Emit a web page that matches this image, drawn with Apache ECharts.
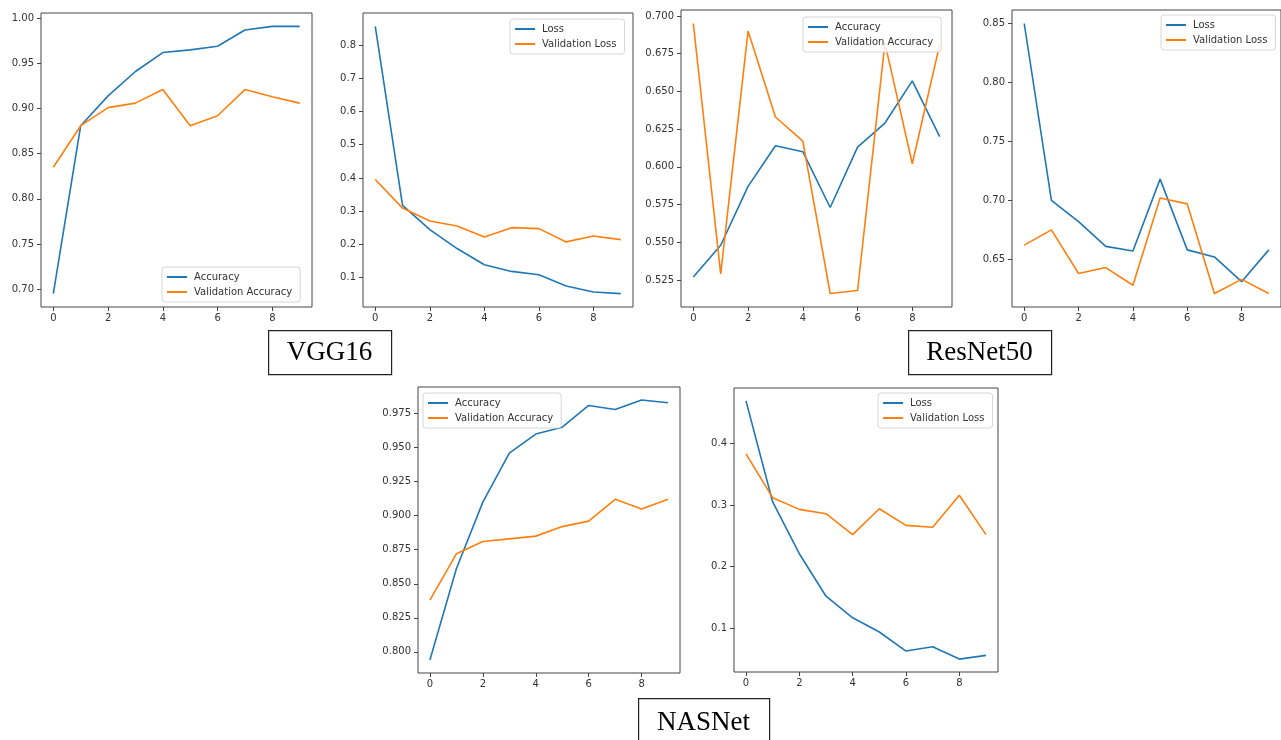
<!DOCTYPE html>
<html>
<head>
<meta charset="utf-8">
<script src="https://cdn.jsdelivr.net/npm/echarts@6/dist/echarts.min.js"></script>
<style>
  html, body { margin: 0; padding: 0; background: #fff; }
  #main { width: 1281px; height: 740px; }
</style>
</head>
<body>
<div id="main"></div>
<script>
var chart = echarts.init(document.getElementById('main'));

var epochs = [0, 1, 2, 3, 4, 5, 6, 7, 8, 9];
var xTicks = [0, 2, 4, 6, 8];

// VGG16
var vggAcc = [0.695, 0.881, 0.914, 0.941, 0.962, 0.965, 0.969, 0.987, 0.991, 0.991];
var vggValAcc = [0.835, 0.881, 0.901, 0.906, 0.921, 0.881, 0.892, 0.921, 0.913, 0.906];
var vggLoss = [0.857, 0.317, 0.244, 0.187, 0.138, 0.118, 0.108, 0.074, 0.056, 0.051];
var vggValLoss = [0.395, 0.309, 0.270, 0.255, 0.222, 0.250, 0.247, 0.207, 0.225, 0.214];

// ResNet50
var resAcc = [0.527, 0.548, 0.587, 0.614, 0.610, 0.573, 0.613, 0.629, 0.657, 0.620];
var resValAcc = [0.695, 0.529, 0.690, 0.633, 0.617, 0.516, 0.518, 0.682, 0.602, 0.681];
var resLoss = [0.850, 0.700, 0.682, 0.661, 0.657, 0.718, 0.658, 0.652, 0.631, 0.658];
var resValLoss = [0.662, 0.675, 0.638, 0.643, 0.628, 0.702, 0.697, 0.621, 0.633, 0.621];

// NASNet
var nasAcc = [0.794, 0.861, 0.910, 0.946, 0.960, 0.965, 0.981, 0.978, 0.985, 0.983];
var nasValAcc = [0.838, 0.872, 0.881, 0.883, 0.885, 0.892, 0.896, 0.912, 0.905, 0.912];
var nasLoss = [0.469, 0.305, 0.221, 0.152, 0.117, 0.094, 0.063, 0.070, 0.050, 0.056];
var nasValLoss = [0.383, 0.312, 0.293, 0.286, 0.252, 0.294, 0.267, 0.264, 0.316, 0.252];

// y tick labels per panel
var yTicksVggAcc = [0.70, 0.75, 0.80, 0.85, 0.90, 0.95, 1.00];
var yTicksVggLoss = [0.1, 0.2, 0.3, 0.4, 0.5, 0.6, 0.7, 0.8];
var yTicksResAcc = [0.525, 0.550, 0.575, 0.600, 0.625, 0.650, 0.675, 0.700];
var yTicksResLoss = [0.65, 0.70, 0.75, 0.80, 0.85];
var yTicksNasAcc = [0.800, 0.825, 0.850, 0.875, 0.900, 0.925, 0.950, 0.975];
var yTicksNasLoss = [0.1, 0.2, 0.3, 0.4];

var BLUE = '#1f77b4', ORANGE = '#ff7f0e';

function pairs(vals) {
    return vals.map(function (v, i) { return [epochs[i], v]; });
}

// panel frames (px)
var grids = [
    {left: 41, top: 13, width: 271, height: 294},
    {left: 363, top: 13, width: 270, height: 294},
    {left: 681, top: 10, width: 271, height: 297},
    {left: 1012, top: 10, width: 273, height: 297},
    {left: 418, top: 387, width: 262, height: 286},
    {left: 734, top: 388, width: 264, height: 284}
];

var panels = [
    {a: vggAcc, b: vggValAcc, names: ['Accuracy', 'Validation Accuracy'], ticks: yTicksVggAcc, dec: 2, leg: [162, 267]},
    {a: vggLoss, b: vggValLoss, names: ['Loss', 'Validation Loss'], ticks: yTicksVggLoss, dec: 1, leg: [510, 19]},
    {a: resAcc, b: resValAcc, names: ['Accuracy', 'Validation Accuracy'], ticks: yTicksResAcc, dec: 3, leg: [803, 17]},
    {a: resLoss, b: resValLoss, names: ['Loss', 'Validation Loss'], ticks: yTicksResLoss, dec: 2, leg: [1161, 15]},
    {a: nasAcc, b: nasValAcc, names: ['Accuracy', 'Validation Accuracy'], ticks: yTicksNasAcc, dec: 3, leg: [423, 393]},
    {a: nasLoss, b: nasValLoss, names: ['Loss', 'Validation Loss'], ticks: yTicksNasLoss, dec: 1, leg: [878, 393]}
];

var tickFont = {fontFamily: 'DejaVu Sans', fontSize: 10, color: '#333'};

var option = {
    backgroundColor: '#fff',
    animation: false,
    grid: [], xAxis: [], yAxis: [], series: [], legend: [],
    graphic: []
};

panels.forEach(function (p, i) {
    var g = grids[i];
    option.grid.push({
        left: g.left, top: g.top, width: g.width, height: g.height,
        show: true, borderColor: '#444', borderWidth: 1, backgroundColor: '#fff'
    });
    // matplotlib style 5% margins
    var all = p.a.concat(p.b);
    var lo = Math.min.apply(null, all), hi = Math.max.apply(null, all);
    var pad = (hi - lo) * 0.05;
    option.xAxis.push({
        type: 'value', gridIndex: i, min: -0.45, max: 9.45,
        splitLine: {show: false}, axisLine: {show: false, onZero: false},
        axisTick: {show: true, inside: false, length: 4, customValues: xTicks, lineStyle: {color: '#444'}},
        axisLabel: Object.assign({margin: 6, customValues: xTicks, formatter: function (v) { return String(v); }}, tickFont)
    });
    option.yAxis.push({
        type: 'value', gridIndex: i, min: lo - pad, max: hi + pad,
        splitLine: {show: false}, axisLine: {show: false, onZero: false},
        axisTick: {show: true, inside: false, length: 4, customValues: p.ticks, lineStyle: {color: '#444'}},
        axisLabel: Object.assign({margin: 7, customValues: p.ticks, formatter: function (v) { return v.toFixed(p.dec); }}, tickFont)
    });
    [p.a, p.b].forEach(function (vals, k) {
        option.series.push({
            name: p.names[k], type: 'line', xAxisIndex: i, yAxisIndex: i,
            data: pairs(vals), symbol: 'none',
            lineStyle: {color: k ? ORANGE : BLUE, width: 1.6},
            itemStyle: {color: k ? ORANGE : BLUE}
        });
    });
    option.legend.push({
        data: p.names, orient: 'vertical', left: p.leg[0], top: p.leg[1],
        icon: 'rect', itemWidth: 20, itemHeight: 2, itemGap: 5,
        padding: [5, 8, 5, 5],
        backgroundColor: 'rgba(255,255,255,0.85)', borderColor: '#d6d6d6', borderWidth: 1, borderRadius: 3,
        textStyle: {fontFamily: 'DejaVu Sans', fontSize: 10, color: '#333', padding: [0, 0, 0, 2]}
    });
});

// model name boxes
var labels = [
    {text: 'VGG16', x: 268, y: 330, w: 123, h: 44, ty: 23},
    {text: 'ResNet50', x: 908, y: 330, w: 143, h: 44, ty: 23},
    {text: 'NASNet', x: 638, y: 698, w: 131, h: 48, ty: 25}
];
labels.forEach(function (l) {
    option.graphic.push({
        type: 'rect', left: l.x, top: l.y, z: 10,
        shape: {width: l.w, height: l.h},
        style: {fill: '#fff', stroke: '#222', lineWidth: 1.2}
    });
    option.graphic.push({
        type: 'text', x: l.x + l.w / 2, y: l.y + l.ty, z: 11,
        style: {text: l.text, fill: '#000', font: '27px "Liberation Serif"', textAlign: 'center', textVerticalAlign: 'middle'}
    });
});

chart.setOption(option);
</script>
</body>
</html>
